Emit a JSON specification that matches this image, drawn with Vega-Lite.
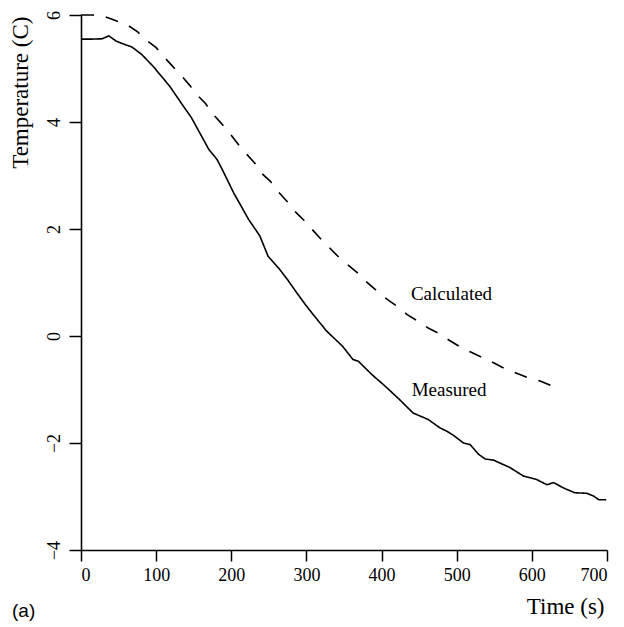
{
  "$schema": "https://vega.github.io/schema/vega-lite/v6.json",
  "width": 526,
  "height": 535,
  "autosize": {"type": "none"},
  "padding": {"left": 81, "top": 15, "right": 17, "bottom": 77},
  "background": "white",
  "config": {
    "view": {"stroke": null},
    "axis": {
      "grid": false,
      "domainColor": "black",
      "domainWidth": 1.6,
      "tickColor": "black",
      "tickWidth": 1.5,
      "labelColor": "black",
      "titleColor": "black",
      "labelFont": "Liberation Serif",
      "titleFont": "Liberation Serif",
      "labelFontSize": 18,
      "titleFontSize": 23,
      "titleFontWeight": "normal"
    }
  },
  "title": {
    "text": "(a)",
    "orient": "bottom",
    "anchor": "start",
    "frame": "bounds",
    "font": "Liberation Sans",
    "fontSize": 19,
    "fontWeight": "normal",
    "color": "black",
    "offset": -16,
    "dx": 3
  },
  "datasets": {
    "curves": [
      {"series": "Measured", "t": 0, "T": 5.55},
      {"series": "Measured", "t": 15, "T": 5.55},
      {"series": "Measured", "t": 28, "T": 5.555},
      {"series": "Measured", "t": 37, "T": 5.61},
      {"series": "Measured", "t": 47, "T": 5.51},
      {"series": "Measured", "t": 60, "T": 5.44},
      {"series": "Measured", "t": 68, "T": 5.4},
      {"series": "Measured", "t": 81, "T": 5.26},
      {"series": "Measured", "t": 96, "T": 5.04},
      {"series": "Measured", "t": 118, "T": 4.67},
      {"series": "Measured", "t": 136, "T": 4.3},
      {"series": "Measured", "t": 147, "T": 4.08},
      {"series": "Measured", "t": 163, "T": 3.67},
      {"series": "Measured", "t": 170, "T": 3.49},
      {"series": "Measured", "t": 181, "T": 3.3},
      {"series": "Measured", "t": 187, "T": 3.14},
      {"series": "Measured", "t": 203, "T": 2.68},
      {"series": "Measured", "t": 223, "T": 2.18},
      {"series": "Measured", "t": 238, "T": 1.87},
      {"series": "Measured", "t": 249, "T": 1.49},
      {"series": "Measured", "t": 263, "T": 1.27},
      {"series": "Measured", "t": 275, "T": 1.05},
      {"series": "Measured", "t": 287, "T": 0.81},
      {"series": "Measured", "t": 299, "T": 0.58},
      {"series": "Measured", "t": 309, "T": 0.4},
      {"series": "Measured", "t": 327, "T": 0.09},
      {"series": "Measured", "t": 348, "T": -0.19},
      {"series": "Measured", "t": 362, "T": -0.44},
      {"series": "Measured", "t": 369, "T": -0.47},
      {"series": "Measured", "t": 387, "T": -0.72},
      {"series": "Measured", "t": 405, "T": -0.94},
      {"series": "Measured", "t": 424, "T": -1.19},
      {"series": "Measured", "t": 442, "T": -1.44},
      {"series": "Measured", "t": 462, "T": -1.56},
      {"series": "Measured", "t": 478, "T": -1.72},
      {"series": "Measured", "t": 487, "T": -1.78},
      {"series": "Measured", "t": 496, "T": -1.86},
      {"series": "Measured", "t": 509, "T": -2.0},
      {"series": "Measured", "t": 518, "T": -2.03},
      {"series": "Measured", "t": 529, "T": -2.21},
      {"series": "Measured", "t": 538, "T": -2.3},
      {"series": "Measured", "t": 549, "T": -2.32},
      {"series": "Measured", "t": 571, "T": -2.46},
      {"series": "Measured", "t": 589, "T": -2.62},
      {"series": "Measured", "t": 606, "T": -2.68},
      {"series": "Measured", "t": 620, "T": -2.78},
      {"series": "Measured", "t": 629, "T": -2.74},
      {"series": "Measured", "t": 642, "T": -2.84},
      {"series": "Measured", "t": 657, "T": -2.93},
      {"series": "Measured", "t": 673, "T": -2.94},
      {"series": "Measured", "t": 682, "T": -2.99},
      {"series": "Measured", "t": 689, "T": -3.06},
      {"series": "Measured", "t": 699, "T": -3.06},
      {"series": "Calculated", "t": 0, "T": 6.0},
      {"series": "Calculated", "t": 15, "T": 6.0},
      {"series": "Calculated", "t": 28, "T": 5.99},
      {"series": "Calculated", "t": 45, "T": 5.9},
      {"series": "Calculated", "t": 61, "T": 5.82},
      {"series": "Calculated", "t": 75, "T": 5.69},
      {"series": "Calculated", "t": 87, "T": 5.53},
      {"series": "Calculated", "t": 100, "T": 5.39},
      {"series": "Calculated", "t": 111, "T": 5.21},
      {"series": "Calculated", "t": 122, "T": 5.04},
      {"series": "Calculated", "t": 134, "T": 4.86},
      {"series": "Calculated", "t": 145, "T": 4.68},
      {"series": "Calculated", "t": 155, "T": 4.5},
      {"series": "Calculated", "t": 166, "T": 4.34},
      {"series": "Calculated", "t": 176, "T": 4.14},
      {"series": "Calculated", "t": 187, "T": 3.97},
      {"series": "Calculated", "t": 199, "T": 3.77},
      {"series": "Calculated", "t": 211, "T": 3.55},
      {"series": "Calculated", "t": 221, "T": 3.39},
      {"series": "Calculated", "t": 232, "T": 3.22},
      {"series": "Calculated", "t": 242, "T": 3.02},
      {"series": "Calculated", "t": 252, "T": 2.89},
      {"series": "Calculated", "t": 263, "T": 2.69},
      {"series": "Calculated", "t": 274, "T": 2.52},
      {"series": "Calculated", "t": 286, "T": 2.31},
      {"series": "Calculated", "t": 297, "T": 2.16},
      {"series": "Calculated", "t": 309, "T": 1.97},
      {"series": "Calculated", "t": 320, "T": 1.8},
      {"series": "Calculated", "t": 332, "T": 1.63},
      {"series": "Calculated", "t": 344, "T": 1.46},
      {"series": "Calculated", "t": 356, "T": 1.32},
      {"series": "Calculated", "t": 369, "T": 1.17},
      {"series": "Calculated", "t": 380, "T": 1.01},
      {"series": "Calculated", "t": 394, "T": 0.84},
      {"series": "Calculated", "t": 408, "T": 0.68},
      {"series": "Calculated", "t": 420, "T": 0.56},
      {"series": "Calculated", "t": 434, "T": 0.4},
      {"series": "Calculated", "t": 448, "T": 0.28},
      {"series": "Calculated", "t": 462, "T": 0.15},
      {"series": "Calculated", "t": 476, "T": 0.05},
      {"series": "Calculated", "t": 490, "T": -0.08},
      {"series": "Calculated", "t": 504, "T": -0.2},
      {"series": "Calculated", "t": 520, "T": -0.31},
      {"series": "Calculated", "t": 535, "T": -0.41},
      {"series": "Calculated", "t": 549, "T": -0.5},
      {"series": "Calculated", "t": 564, "T": -0.61},
      {"series": "Calculated", "t": 579, "T": -0.69},
      {"series": "Calculated", "t": 595, "T": -0.78},
      {"series": "Calculated", "t": 611, "T": -0.84},
      {"series": "Calculated", "t": 628, "T": -0.94}
    ],
    "labels": [
      {"label": "Calculated", "t": 439, "T": 0.78},
      {"label": "Measured", "t": 440, "T": -1.0}
    ]
  },
  "layer": [
    {
      "data": {"name": "curves"},
      "mark": {"type": "line", "color": "black", "strokeWidth": 1.6, "clip": false},
      "encoding": {
        "x": {
          "field": "t",
          "type": "quantitative",
          "scale": {"domain": [0, 700], "nice": false, "zero": false},
          "axis": {
            "values": [0, 100, 200, 300, 400, 500, 600, 700],
            "tickSize": 11,
            "labelPadding": 5,
            "labelFont": "Liberation Serif",
            "labelFontSize": 18,
            "labelColor": "black",
            "titleFont": "Liberation Serif",
            "titleFontSize": 23,
            "titleFontWeight": "normal",
            "title": "Time (s)",
            "titleAnchor": "end",
            "titleAlign": "right",
            "titleBaseline": "middle",
            "titleX": 523,
            "titleY": 56
          }
        },
        "y": {
          "field": "T",
          "type": "quantitative",
          "scale": {"domain": [-4, 6], "nice": false, "zero": false},
          "axis": {
            "values": [-4, -2, 0, 2, 4, 6],
            "tickSize": 12,
            "labelPadding": 6,
            "labelFont": "Liberation Serif",
            "labelFontSize": 18,
            "labelColor": "black",
            "labelAngle": -90,
            "labelAlign": "center",
            "labelBaseline": "bottom",
            "titleFont": "Liberation Serif",
            "titleFontSize": 23,
            "titleFontWeight": "normal",
            "title": "Temperature (C)",
            "titleAngle": -90,
            "titleAlign": "right",
            "titleBaseline": "middle",
            "titleX": -61,
            "titleY": 1
          }
        },
        "detail": {"field": "series"},
        "strokeDash": {
          "field": "series",
          "type": "nominal",
          "scale": {"domain": ["Measured", "Calculated"], "range": [[1, 0], [13, 12]]},
          "legend": null
        }
      }
    },
    {
      "data": {"name": "labels"},
      "mark": {"type": "text", "font": "Liberation Serif", "fontSize": 19, "align": "left", "baseline": "middle", "color": "black"},
      "encoding": {
        "x": {"field": "t", "type": "quantitative"},
        "y": {"field": "T", "type": "quantitative"},
        "text": {"field": "label"}
      }
    }
  ]
}
